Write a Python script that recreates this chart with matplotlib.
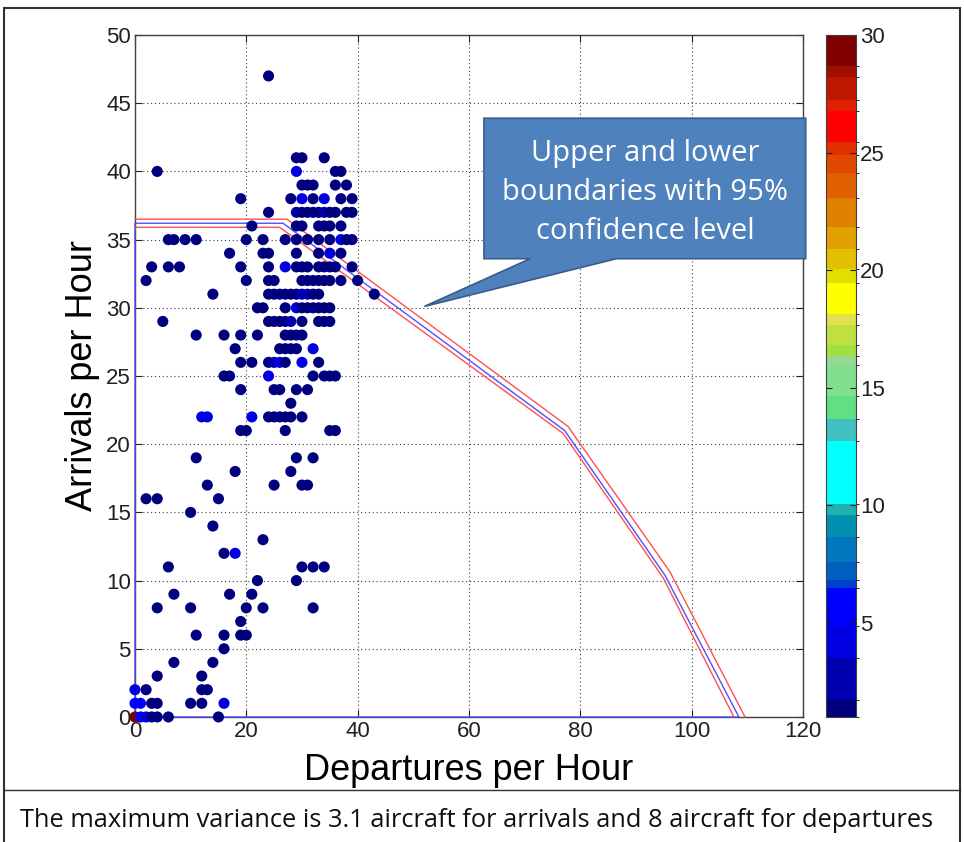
import matplotlib
matplotlib.use('Agg')
import matplotlib.pyplot as plt
from matplotlib.colors import ListedColormap, BoundaryNorm
from matplotlib.patches import Polygon, Rectangle
from matplotlib.lines import Line2D
import numpy as np

# observed hourly pairs, one line per arrivals value
departures = [24,
              29, 30, 34,
              4, 29, 36, 37,
              30, 31, 32, 36, 38,
              19, 28, 30, 32, 34, 37, 39,
              24, 29, 30, 31, 32, 33, 34, 35, 36, 38, 39,
              21, 29, 30, 33, 34, 35, 37,
              6, 7, 9, 11, 20, 23, 27, 29, 31, 33, 35, 37, 38, 39,
              17, 23, 24, 29, 33, 35, 37,
              3, 6, 8, 19, 24, 27, 29, 30, 31, 33, 34, 35, 36, 39,
              2, 20, 24, 25, 30, 31, 32, 33, 34, 35, 37, 40,
              14, 24, 25, 26, 27, 28, 29, 30, 31, 32, 33, 43,
              22, 23, 27, 29, 30, 31, 32, 33, 34, 35,
              5, 24, 25, 26, 27, 28, 30, 33, 34, 35,
              11, 16, 19, 22, 27, 28, 29, 30,
              18, 26, 27, 28, 29, 32,
              19, 21, 24, 25, 26, 27, 30, 33,
              16, 17, 24, 32, 34, 35, 36,
              19, 25, 26, 29, 31,
              28,
              12, 13, 21, 24, 25, 26, 27, 28, 30,
              19, 20, 27, 35, 36,
              11, 29, 32,
              18, 28,
              13, 25, 30, 31,
              2, 4, 15,
              10,
              14,
              23,
              16, 18,
              6, 30, 32, 34,
              22, 29,
              7, 17, 21,
              4, 10, 20, 23, 32,
              19,
              11, 16, 19, 20,
              16,
              7, 14,
              4, 12,
              0, 2, 12, 13,
              0, 1, 3, 4, 10, 12, 16,
              0, 1, 2, 3, 4, 6, 15]

arrivals = [47,
            41, 41, 41,
            40, 40, 40, 40,
            39, 39, 39, 39, 39,
            38, 38, 38, 38, 38, 38, 38,
            37, 37, 37, 37, 37, 37, 37, 37, 37, 37, 37,
            36, 36, 36, 36, 36, 36, 36,
            35, 35, 35, 35, 35, 35, 35, 35, 35, 35, 35, 35, 35, 35,
            34, 34, 34, 34, 34, 34, 34,
            33, 33, 33, 33, 33, 33, 33, 33, 33, 33, 33, 33, 33, 33,
            32, 32, 32, 32, 32, 32, 32, 32, 32, 32, 32, 32,
            31, 31, 31, 31, 31, 31, 31, 31, 31, 31, 31, 31,
            30, 30, 30, 30, 30, 30, 30, 30, 30, 30,
            29, 29, 29, 29, 29, 29, 29, 29, 29, 29,
            28, 28, 28, 28, 28, 28, 28, 28,
            27, 27, 27, 27, 27, 27,
            26, 26, 26, 26, 26, 26, 26, 26,
            25, 25, 25, 25, 25, 25, 25,
            24, 24, 24, 24, 24,
            23,
            22, 22, 22, 22, 22, 22, 22, 22, 22,
            21, 21, 21, 21, 21,
            19, 19, 19,
            18, 18,
            17, 17, 17, 17,
            16, 16, 16,
            15,
            14,
            13,
            12, 12,
            11, 11, 11, 11,
            10, 10,
            9, 9, 9,
            8, 8, 8, 8, 8,
            7,
            6, 6, 6, 6,
            5,
            4, 4,
            3, 3,
            2, 2, 2, 2,
            1, 1, 1, 1, 1, 1, 1,
            0, 0, 0, 0, 0, 0, 0]

# number of hours observed at each pair (mostly single)
counts = [1,
          1, 1, 1,
          1, 4, 1, 1,
          1, 1, 1, 1, 1,
          1, 1, 4, 1, 4, 1, 1,
          1, 3, 1, 1, 1, 1, 3, 1, 1, 1, 1,
          1, 1, 1, 1, 1, 1, 1,
          1, 1, 1, 1, 1, 1, 1, 1, 1, 1, 1, 4, 1, 1,
          1, 1, 1, 1, 1, 4, 1,
          1, 1, 1, 1, 1, 4, 1, 1, 1, 1, 1, 1, 1, 1,
          1, 1, 1, 1, 1, 1, 1, 1, 1, 1, 1, 1,
          1, 1, 1, 1, 1, 1, 1, 3, 3, 1, 1, 1,
          1, 1, 1, 4, 1, 1, 1, 1, 1, 1,
          1, 1, 1, 1, 1, 3, 1, 1, 1, 1,
          1, 1, 1, 1, 1, 1, 1, 1,
          1, 1, 1, 1, 1, 4,
          1, 1, 1, 3, 4, 1, 4, 1,
          1, 1, 4, 1, 1, 1, 1,
          1, 1, 1, 1, 1,
          1,
          4, 4, 4, 1, 1, 1, 1, 1, 1,
          1, 1, 1, 1, 1,
          1, 1, 1,
          1, 1,
          1, 1, 1, 1,
          1, 1, 1,
          1,
          1,
          1,
          1, 4,
          1, 1, 1, 1,
          1, 1,
          1, 1, 1,
          1, 1, 1, 1, 1,
          1,
          1, 1, 1, 1,
          1,
          1, 1,
          1, 1,
          4, 1, 1, 1,
          5.5, 5.5, 1, 1, 1, 1, 4,
          30, 5, 4, 1, 1, 1, 1]

# capacity envelope (mean and 95% bounds)
env_x = [0, 0, 26.6, 77.2, 95.2, 108.5, 0]
env_y = [0, 36.2, 36.2, 21.0, 10.4, 0, 0]
upper_x = [0, 27.3, 77.8, 96.1, 109.6]
upper_y = [36.5, 36.5, 21.3, 10.65, 0]
lower_x = [0, 26.0, 76.9, 94.9, 107.6]
lower_y = [35.9, 35.9, 20.8, 10.2, 0]

# banded jet-like colour scale
band_edges = [1, 1.72, 3.52, 4.85, 6.47, 6.84, 7.60, 8.65, 9.60, 10.07, 12.73,
              13.68, 14.63, 15.95, 16.33, 16.81, 17.66, 18.14, 19.47, 20.04,
              20.89, 21.84, 23.07, 24.12, 24.88, 25.44, 26.77, 27.25, 28.2,
              28.67, 30]
band_colors = ['#00007f', '#0000b0', '#0000e0', '#0000ff', '#0040d0', '#0060c0',
               '#0078c0', '#0090b0', '#20b0b0', '#00ffff', '#40c0c0', '#60e080',
               '#80e090', '#98d890', '#a0e040', '#c0e040', '#e0e050', '#ffff00',
               '#e0e000', '#e0c000', '#e0a000', '#e08000', '#e06000', '#e04800',
               '#e03000', '#ff0000', '#e02000', '#c01800', '#a01000', '#800000']

cmap = ListedColormap(band_colors)
cmap.set_over('#800000')
norm = BoundaryNorm(band_edges, cmap.N)

plt.rcParams['font.family'] = ['Liberation Sans', 'DejaVu Sans']

fig = plt.figure(figsize=(9.64, 8.42), dpi=100)
ax = fig.add_axes([0.1400, 0.1485, 0.6929, 0.8099])
cax = fig.add_axes([0.8568, 0.1485, 0.0311, 0.8099])

ax.grid(True, linestyle=(0, (1, 2.5)), color='#404040', linewidth=0.8)
ax.set_axisbelow(True)

ax.plot(env_x, env_y, color='#5050ff', linewidth=1.0, zorder=3, clip_on=False)
ax.plot(upper_x, upper_y, color='#ff5050', linewidth=1.0, zorder=3, clip_on=False)
ax.plot(lower_x, lower_y, color='#ff5050', linewidth=1.0, zorder=3, clip_on=False)

sc = ax.scatter(departures, arrivals, c=counts, cmap=cmap, norm=norm, s=64,
                marker='o', linewidths=0, zorder=4, clip_on=False)

ax.set_xlim(0, 120)
ax.set_ylim(0, 50)
ax.set_xticks(np.arange(0, 121, 20))
ax.set_yticks(np.arange(0, 51, 5))
ax.tick_params(direction='in', top=True, right=True, length=5, labelsize=16,
               colors='#202020', pad=3)
for sp in ax.spines.values():
    sp.set_color('#404040')
    sp.set_linewidth(1.0)

ax.set_xlabel('Departures per Hour', fontsize=26, labelpad=8)
ax.set_ylabel('Arrivals per Hour', fontsize=26, labelpad=4)

cb = fig.colorbar(sc, cax=cax, spacing='proportional', extend='neither')
cb.set_ticks([5, 10, 15, 20, 25, 30])
cb.ax.tick_params(direction='in', left=True, right=True, length=4, labelsize=16,
                  colors='#202020', pad=3)
cb.outline.set_edgecolor('#404040')

# callout box pointing at the boundary lines
callout = Polygon([[62.7, 43.9], [120.5, 43.9], [120.5, 33.6], [86.5, 33.6],
                   [52.0, 30.1], [71.0, 33.6], [62.7, 33.6]],
                  closed=True, facecolor='#4f81bd', edgecolor='#385d8a',
                  linewidth=1.2, zorder=6, clip_on=False)
ax.add_patch(callout)
ax.text(91.6, 38.45, 'Upper and lower\nboundaries with 95%\nconfidence level',
        ha='center', va='center', color='white', fontsize=21,
        family=['Open Sans', 'DejaVu Sans'], linespacing=1.45, zorder=7)

# frame and caption row
fig.add_artist(Rectangle((0.004, -0.01), 0.992, 1.0, transform=fig.transFigure,
                         fill=False, edgecolor='#303030', linewidth=1.5))
fig.add_artist(Line2D([0.004, 0.996], [0.0618, 0.0618], transform=fig.transFigure,
                      color='#303030', linewidth=1.0))
fig.text(0.021, 0.026, 'The maximum variance is 3.1 aircraft for arrivals and 8 aircraft for departures',
         fontsize=18.3, family=['Open Sans', 'DejaVu Sans'], color='#101010',
         ha='left', va='center')

fig.savefig('out.png', dpi=100)
